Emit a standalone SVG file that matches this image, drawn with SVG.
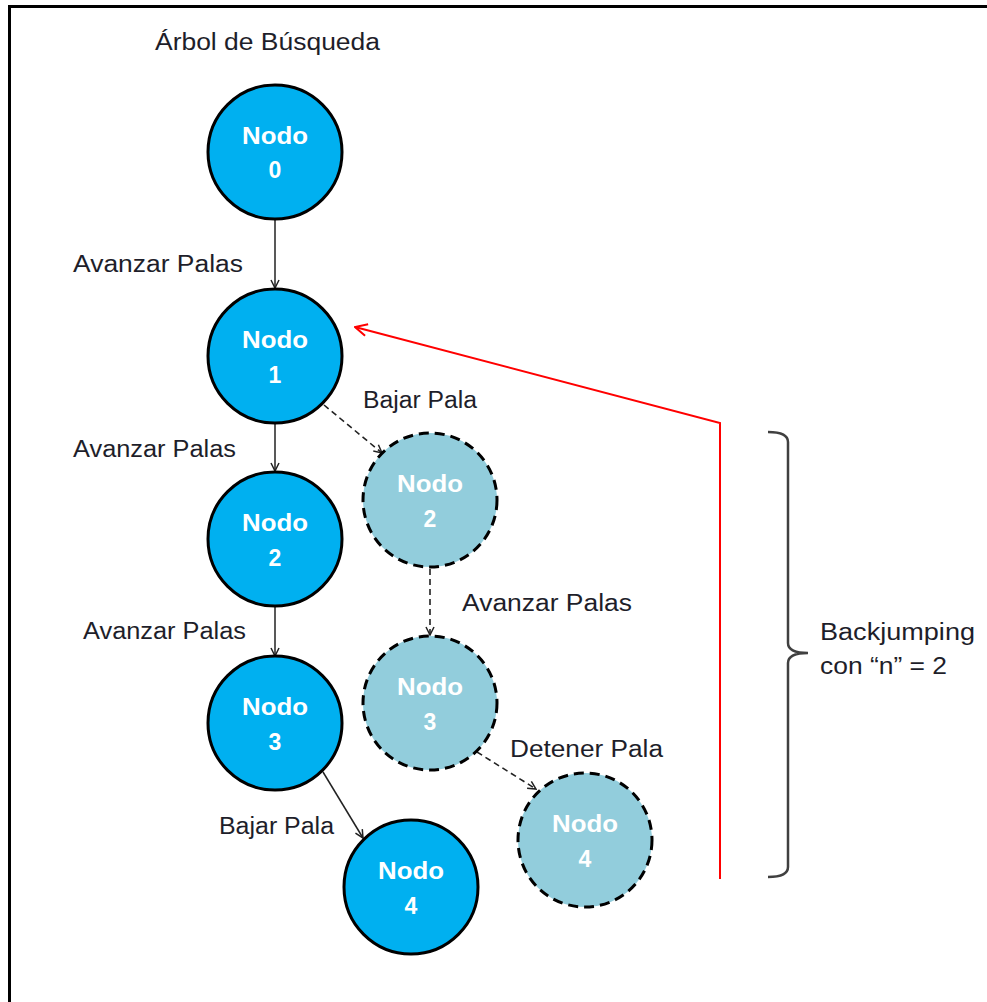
<svg xmlns="http://www.w3.org/2000/svg" width="987" height="1002" viewBox="0 0 987 1002">
  <style>
    .frame { fill: #ffffff; stroke: #000000; stroke-width: 3; }
    .solid { fill: #00b0f0; stroke: #000000; stroke-width: 3; }
    .ghost { fill: #92cddc; stroke: #000000; stroke-width: 3; stroke-dasharray: 10 6; }
    .ntxt { font-family: "Liberation Sans", Arial, sans-serif; font-weight: bold; font-size: 23px; fill: #ffffff; text-anchor: middle; }
    .lbl { font-family: "Liberation Sans", Arial, sans-serif; font-size: 23px; fill: #1e1e2a; }
    .edge { fill: none; stroke: #222222; stroke-width: 1.5; }
    .dash { fill: none; stroke: #222222; stroke-width: 1.6; stroke-dasharray: 6 4; }
    .jump { fill: none; stroke: #ff0000; stroke-width: 2; }
    .brace { fill: none; stroke: #404040; stroke-width: 2.5; }
  </style>
  <defs>
    <marker id="arr" viewBox="0 0 10 10" refX="9" refY="5" markerWidth="10" markerHeight="10" markerUnits="userSpaceOnUse" orient="auto">
      <path d="M1,1 L9,5 L1,9" fill="none" stroke="#222222" stroke-width="1.5"/>
    </marker>
    <marker id="arrRed" viewBox="0 0 14 14" refX="13" refY="7" markerWidth="14" markerHeight="14" markerUnits="userSpaceOnUse" orient="auto">
      <path d="M1,1 L13,7 L1,13" fill="none" stroke="#ff0000" stroke-width="2"/>
    </marker>
  </defs>

  <!-- outer frame (right and bottom sides run past the canvas) -->
  <rect class="frame" x="9.5" y="6.5" width="1000" height="1010"/>

  <text class="lbl" x="155" y="50" textLength="225" lengthAdjust="spacingAndGlyphs">Árbol de Búsqueda</text>

  <!-- connectors -->
  <g id="connectors">
    <line class="edge" x1="275" y1="220" x2="275" y2="288" marker-end="url(#arr)"/>
    <line class="edge" x1="275" y1="424" x2="275" y2="471" marker-end="url(#arr)"/>
    <line class="edge" x1="275" y1="607" x2="275" y2="656" marker-end="url(#arr)"/>
    <line class="edge" x1="323" y1="772" x2="363" y2="838" marker-end="url(#arr)"/>
    <line class="dash" x1="324" y1="405" x2="382" y2="453" marker-end="url(#arr)"/>
    <line class="dash" x1="430" y1="569" x2="430" y2="635" marker-end="url(#arr)"/>
    <line class="dash" x1="477" y1="752" x2="536" y2="789" marker-end="url(#arr)"/>
    <polyline class="jump" points="720,879 720,423 355,327" marker-end="url(#arrRed)"/>
  </g>

  <!-- edge labels -->
  <g id="labels">
    <text class="lbl" x="73" y="272" textLength="170" lengthAdjust="spacingAndGlyphs">Avanzar  Palas</text>
    <text class="lbl" x="73" y="457" textLength="163" lengthAdjust="spacingAndGlyphs">Avanzar Palas</text>
    <text class="lbl" x="83" y="639" textLength="163" lengthAdjust="spacingAndGlyphs">Avanzar Palas</text>
    <text class="lbl" x="219" y="834" textLength="115" lengthAdjust="spacingAndGlyphs">Bajar Pala</text>
    <text class="lbl" x="363" y="408" textLength="114" lengthAdjust="spacingAndGlyphs">Bajar Pala</text>
    <text class="lbl" x="462" y="611" textLength="170" lengthAdjust="spacingAndGlyphs">Avanzar  Palas</text>
    <text class="lbl" x="510" y="757" textLength="153" lengthAdjust="spacingAndGlyphs">Detener Pala</text>
  </g>

  <!-- search tree nodes -->
  <g id="nodo0">
    <circle class="solid" cx="275" cy="152" r="67"/>
    <text class="ntxt" x="275" y="144" textLength="66" lengthAdjust="spacingAndGlyphs">Nodo</text>
    <text class="ntxt" x="275" y="178">0</text>
  </g>
  <g id="nodo1">
    <circle class="solid" cx="275" cy="356" r="67"/>
    <text class="ntxt" x="275" y="348" textLength="66" lengthAdjust="spacingAndGlyphs">Nodo</text>
    <text class="ntxt" x="275" y="383">1</text>
  </g>
  <g id="nodo2">
    <circle class="solid" cx="275" cy="539" r="67"/>
    <text class="ntxt" x="275" y="531" textLength="66" lengthAdjust="spacingAndGlyphs">Nodo</text>
    <text class="ntxt" x="275" y="566">2</text>
  </g>
  <g id="nodo3">
    <circle class="solid" cx="275" cy="723" r="67"/>
    <text class="ntxt" x="275" y="715" textLength="66" lengthAdjust="spacingAndGlyphs">Nodo</text>
    <text class="ntxt" x="275" y="750">3</text>
  </g>
  <g id="nodo4">
    <circle class="solid" cx="411" cy="887" r="67"/>
    <text class="ntxt" x="411" y="879" textLength="66" lengthAdjust="spacingAndGlyphs">Nodo</text>
    <text class="ntxt" x="411" y="914">4</text>
  </g>

  <!-- discarded branch -->
  <g id="nodo2b">
    <circle class="ghost" cx="430" cy="500" r="67"/>
    <text class="ntxt" x="430" y="492" textLength="66" lengthAdjust="spacingAndGlyphs">Nodo</text>
    <text class="ntxt" x="430" y="527">2</text>
  </g>
  <g id="nodo3b">
    <circle class="ghost" cx="430" cy="703" r="67"/>
    <text class="ntxt" x="430" y="695" textLength="66" lengthAdjust="spacingAndGlyphs">Nodo</text>
    <text class="ntxt" x="430" y="730">3</text>
  </g>
  <g id="nodo4b">
    <circle class="ghost" cx="585" cy="840" r="67"/>
    <text class="ntxt" x="585" y="832" textLength="66" lengthAdjust="spacingAndGlyphs">Nodo</text>
    <text class="ntxt" x="585" y="867">4</text>
  </g>

  <!-- backjumping bracket -->
  <g id="backjumping">
    <path class="brace" d="M768,432 Q788,432 788,442 L788,643 Q788,653 808,653 Q788,653 788,663 L788,867 Q788,877 768,877"/>
    <text class="lbl" x="820" y="640" textLength="155" lengthAdjust="spacingAndGlyphs">Backjumping</text>
    <text class="lbl" x="820" y="674" textLength="127" lengthAdjust="spacingAndGlyphs">con “n” = 2</text>
  </g>
</svg>
